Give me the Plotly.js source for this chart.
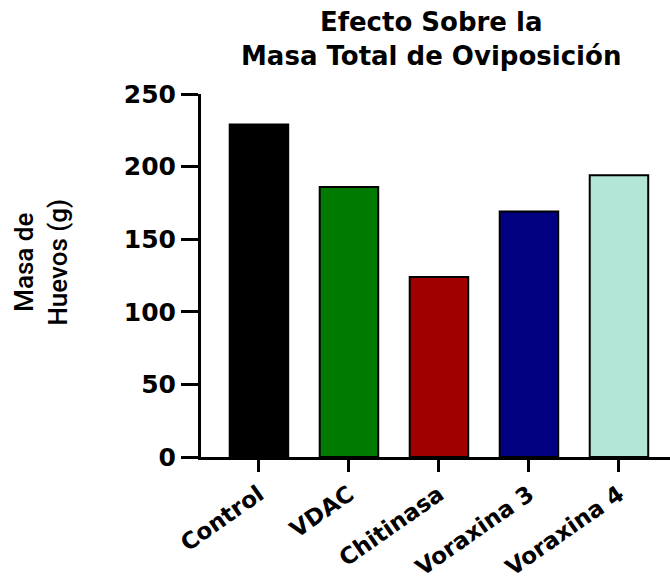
<!DOCTYPE html>
<html>
<head>
<meta charset="utf-8">
<script src="https://cdn.plot.ly/plotly-3.0.1.min.js"></script>
<style>html,body{margin:0;padding:0;background:#fff;}#chart{width:670px;height:586px;}</style>
</head>
<body>
<div id="chart"></div>
<script>
const categories = ["Control", "VDAC", "Chitinasa", "Voraxina 3", "Voraxina 4"];
const values = [229, 186, 124, 169, 194];
const barColors = ["#000000", "#007a00", "#a00000", "#000080", "#b3e6d6"];
const yTicks = [0, 50, 100, 150, 200, 250];
const titleText = "Efecto Sobre la<br>Masa Total de Oviposición";
const yTitleText = "Masa de<br>Huevos (g)";

const yTickFont = {family: "DejaVu Sans", size: 25, color: "#000", weight: "bold"};
const xTickFont = {family: "DejaVu Sans", size: 23, color: "#000", weight: "bold"};

const trace = {
  type: "bar",
  x: categories,
  y: values,
  width: 0.65,
  marker: {color: barColors, line: {color: "#000", width: 2}},
  hoverinfo: "none"
};

const layout = {
  width: 670, height: 586,
  margin: {l: 201, r: 0, t: 94, b: 129},
  paper_bgcolor: "#fff", plot_bgcolor: "#fff",
  showlegend: false,
  xaxis: {
    type: "category",
    range: [-0.644, 4.567],
    showline: true, linecolor: "#000", linewidth: 3,
    ticks: "outside", ticklen: 12, tickwidth: 3, tickcolor: "#000",
    tickangle: -35,
    tickfont: xTickFont,
    showgrid: false, zeroline: false, fixedrange: true
  },
  yaxis: {
    range: [0, 250],
    tickvals: yTicks,
    ticktext: yTicks.map(String),
    showline: true, linecolor: "#000", linewidth: 3,
    ticks: "outside", ticklen: 17, tickwidth: 3, tickcolor: "#000",
    tickfont: yTickFont,
    showgrid: false, zeroline: false, fixedrange: true
  },
  annotations: [{
    text: titleText,
    xref: "paper", yref: "paper",
    x: 0.4904, y: 1.058, xanchor: "center", yanchor: "bottom",
    showarrow: false,
    font: {family: "DejaVu Sans", size: 26, color: "#000", weight: "bold"}
  }, {
    text: yTitleText,
    xref: "paper", yref: "paper",
    x: -0.34, y: 0.537, xanchor: "center", yanchor: "middle",
    textangle: -90, showarrow: false,
    font: {family: "Roboto", size: 26, color: "#000", weight: 500}
  }]
};

Plotly.newPlot("chart", [trace], layout, {displayModeBar: false, staticPlot: true});
</script>
</body>
</html>
